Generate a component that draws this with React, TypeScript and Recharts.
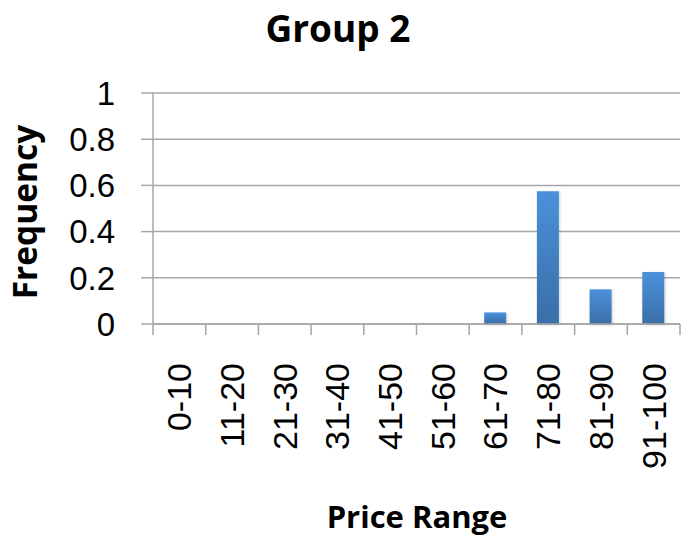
import React from 'react';
import { BarChart, Bar, XAxis, YAxis, CartesianGrid } from 'recharts';

const categories = ['0-10', '11-20', '21-30', '31-40', '41-50', '51-60', '61-70', '71-80', '81-90', '91-100'];
const frequencies = [0, 0, 0, 0, 0, 0, 0.05, 0.575, 0.15, 0.225];
const yTicks = [0, 0.2, 0.4, 0.6, 0.8, 1];
const titleText = 'Group 2';
const xTitle = 'Price Range';
const yTitle = 'Frequency';

const data = categories.map((c, i) => ({ range: c, freq: frequencies[i] }));

const W = 691;
const H = 540;
const PLOT_LEFT = 153;
const PLOT_RIGHT = 680;
const PLOT_TOP = 93;
const PLOT_BOTTOM = 324;
const BAND = (PLOT_RIGHT - PLOT_LEFT) / categories.length;
const GRID = '#a6a6a6';

const XTick = (props: any) => {
  const { x, y, payload, index } = props;
  const ty = y + 39;
  const isLast = index === categories.length - 1;
  return (
    <g>
      <line x1={x - BAND / 2} x2={x - BAND / 2} y1={y} y2={y + 11} stroke={GRID} strokeWidth={1.5} />
      {isLast && <line x1={x + BAND / 2} x2={x + BAND / 2} y1={y} y2={y + 11} stroke={GRID} strokeWidth={1.5} />}
      <text
        x={x}
        y={ty}
        transform={`rotate(-90, ${x}, ${ty})`}
        textAnchor="end"
        dy="0.35em"
        fontSize={34}
        fontFamily="Liberation Sans"
        fill="#000"
      >
        {payload.value}
      </text>
    </g>
  );
};

export default function App() {
  return (
    <div style={{ position: 'absolute', left: 0, top: 0, width: W, height: H, background: '#fff' }}>
      <BarChart
        width={W}
        height={H}
        data={data}
        margin={{ top: PLOT_TOP, right: W - PLOT_RIGHT, bottom: 0, left: 0 }}
        barSize={22}
      >
        <defs>
          <linearGradient id="barGrad" x1="0" y1="0" x2="0" y2="1">
            <stop offset="0%" stopColor="#4a91da" />
            <stop offset="100%" stopColor="#3a6ea8" />
          </linearGradient>
          <filter id="barShadow" x="-30%" y="-10%" width="160%" height="130%">
            <feDropShadow dx="1" dy="1" stdDeviation="1.5" floodColor="#000" floodOpacity="0.18" />
          </filter>
        </defs>
        <CartesianGrid vertical={false} stroke={GRID} strokeWidth={1.5} />
        <XAxis
          dataKey="range"
          height={H - PLOT_BOTTOM}
          interval={0}
          tickLine={false}
          tickSize={0}
          tickMargin={0}
          axisLine={{ stroke: GRID, strokeWidth: 1.5 }}
          tick={<XTick />}
        />
        <YAxis
          width={PLOT_LEFT}
          domain={[0, 1]}
          ticks={yTicks}
          interval={0}
          tickSize={12}
          tickMargin={26}
          tickLine={{ stroke: GRID, strokeWidth: 1.5 }}
          axisLine={{ stroke: GRID, strokeWidth: 1.5 }}
          tick={{ fontSize: 33, fill: '#000', fontFamily: 'Liberation Sans' }}
        />
        <Bar dataKey="freq" fill="url(#barGrad)" filter="url(#barShadow)" isAnimationActive={false} />
      </BarChart>
      <svg width={W} height={H} style={{ position: 'absolute', left: 0, top: 0, pointerEvents: 'none' }}>
        <text x={338} y={42} textAnchor="middle" fontSize={37} fontWeight="bold" fontFamily="Open Sans" fill="#000">
          {titleText}
        </text>
        <text x={417} y={528} textAnchor="middle" fontSize={31} fontWeight="bold" fontFamily="Open Sans" fill="#000">
          {xTitle}
        </text>
        <text
          x={37}
          y={212}
          transform="rotate(-90, 37, 212)"
          textAnchor="middle"
          fontSize={33.5}
          fontWeight="bold"
          fontFamily="Open Sans"
          fill="#000"
        >
          {yTitle}
        </text>
      </svg>
    </div>
  );
}
